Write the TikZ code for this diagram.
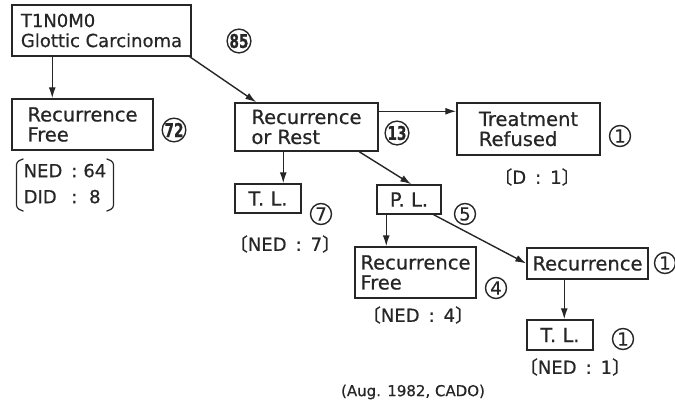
\documentclass[tikz,border=0pt]{standalone}
\usepackage{fontspec}
\setmainfont[FakeBold=0.6]{DejaVu Sans}
\newfontfamily\cjk[FakeBold=1]{Noto Sans CJK JP}
\usepackage{tikz}
\usetikzlibrary{arrows.meta,positioning}
\definecolor{ink}{HTML}{262626}
\newcommand{\boxfont}{\fontsize{19.5}{20}\selectfont}
\newcommand{\notefont}{\fontsize{18}{26}\selectfont}
\newcommand{\numfont}{\fontsize{18}{18}\selectfont}
\newcommand{\lbr}{{\cjk 〔}}
\newcommand{\rbr}{{\cjk 〕}}
\newcommand{\colsep}{\hspace{9pt}:\hspace{9pt}}
\newcommand{\bignum}[1]{\scalebox{0.72}[1]{\fontsize{19}{19}\selectfont\bfseries #1}}

\begin{document}
\begin{tikzpicture}[x=1pt,y=-1pt,color=ink,
  box/.style={draw=ink,line width=1.5pt,align=left,inner sep=0pt,font=\boxfont},
  cnum/.style={circle,draw=ink,line width=1.4pt,inner sep=0pt,minimum size=21pt,font=\numfont},
  note/.style={font=\notefont},
  arr/.style={-{Latex[length=11pt,width=7pt]},line width=1.4pt,draw=ink},
  brk/.style={line width=1.2pt,draw=ink,rounded corners=3pt}
]
  \useasboundingbox (0,0) rectangle (675,407);
  \node[box,minimum width=179pt,minimum height=51pt,
        font=\fontsize{18}{20}\selectfont]           (glottic) at (101.5,30.5)  {T1N0M0\\Glottic Carcinoma};
  \node[box,minimum width=141pt,minimum height=51pt] (rfA)     at (82.5,124.5)  {Recurrence\\Free};
  \node[box,minimum width=143pt,minimum height=48pt] (ror)     at (306.5,127)   {Recurrence\\or Rest};
  \node[box,minimum width=143pt,minimum height=52pt] (treat)   at (528.5,129)   {Treatment\\Refused};
  \node[box,minimum width=66pt,minimum height=29pt]  (tlA)     at (268,198.5)   {T. L.};
  \node[box,minimum width=64pt,minimum height=29pt]  (pl)      at (409,199.5)   {P. L.};
  \node[box,minimum width=121pt,minimum height=51pt] (rfB)     at (415.5,272.5) {Recurrence\\Free};
  \node[box,minimum width=121pt,minimum height=31pt] (rec)     at (587.5,263.5) {Recurrence};
  \node[box,minimum width=66pt,minimum height=30pt]  (tlB)     at (560,335)     {T. L.};

  \node[cnum] (n85)  at (239,41)  {\bignum{85}};
  \node[cnum] (n72)  at (174,130) {\bignum{72}};
  \node[cnum] (n13)  at (397,133) {\bignum{13}};
  \node[cnum] (n1a)  at (620,136) {1};
  \node[cnum] (n7)   at (321,214) {7};
  \node[cnum] (n5)   at (465,214) {5};
  \node[cnum] (n4)   at (496,288) {4};
  \node[cnum] (n1b)  at (665,263) {1};
  \node[cnum] (n1c)  at (623,339) {1};

  \node[note,inner xsep=7pt,inner ysep=1pt] (nedA) at (65,185)
    {\begin{tabular}{@{}l@{\hspace{9pt}}l@{\hspace{6pt}}c@{}}NED&:&64\\DID&:&8\end{tabular}};
  \draw[brk] ([xshift=7pt,yshift=-1pt]nedA.north west) -- ([yshift=-4pt]nedA.north west)
    -- ([yshift=4pt]nedA.south west) -- ([xshift=7pt,yshift=1pt]nedA.south west);
  \draw[brk] ([xshift=-7pt,yshift=-1pt]nedA.north east) -- ([yshift=-4pt]nedA.north east)
    -- ([yshift=4pt]nedA.south east) -- ([xshift=-7pt,yshift=1pt]nedA.south east);
  \node[note] (dA)   at (537,177) {\lbr D\colsep 1\rbr};
  \node[note] (nedB) at (285,244) {\lbr NED\colsep 7\rbr};
  \node[note] (nedC) at (418,315) {\lbr NED\colsep 4\rbr};
  \node[note] (nedD) at (575,367) {\lbr NED\colsep 1\rbr};
  \node[font=\fontsize{15}{16}\selectfont] (src) at (413,392) {(Aug. 1982, CADO)};

  \draw[arr] ([xshift=41pt]glottic.south west) -- ([xshift=41pt]rfA.north west);
  \draw[arr] ([xshift=-2pt]glottic.south east) -- ([xshift=22pt]ror.north west);
  \draw[arr] ([yshift=-9pt]ror.north east)     -- ([yshift=-9pt]treat.north west);
  \draw[arr] ([xshift=49pt]ror.south west)     -- ([xshift=49pt]tlA.north west);
  \draw[arr] ([xshift=125pt]ror.south west)    -- ([xshift=35pt]pl.north west);
  \draw[arr] ([xshift=10pt]pl.south west)      -- ([xshift=32pt]rfB.north west);
  \draw[arr] ([xshift=-8pt]pl.south east)      -- (rec.west);
  \draw[arr] ([xshift=38pt]rec.south west)     -- ([xshift=38pt]tlB.north west);
\end{tikzpicture}
\end{document}
